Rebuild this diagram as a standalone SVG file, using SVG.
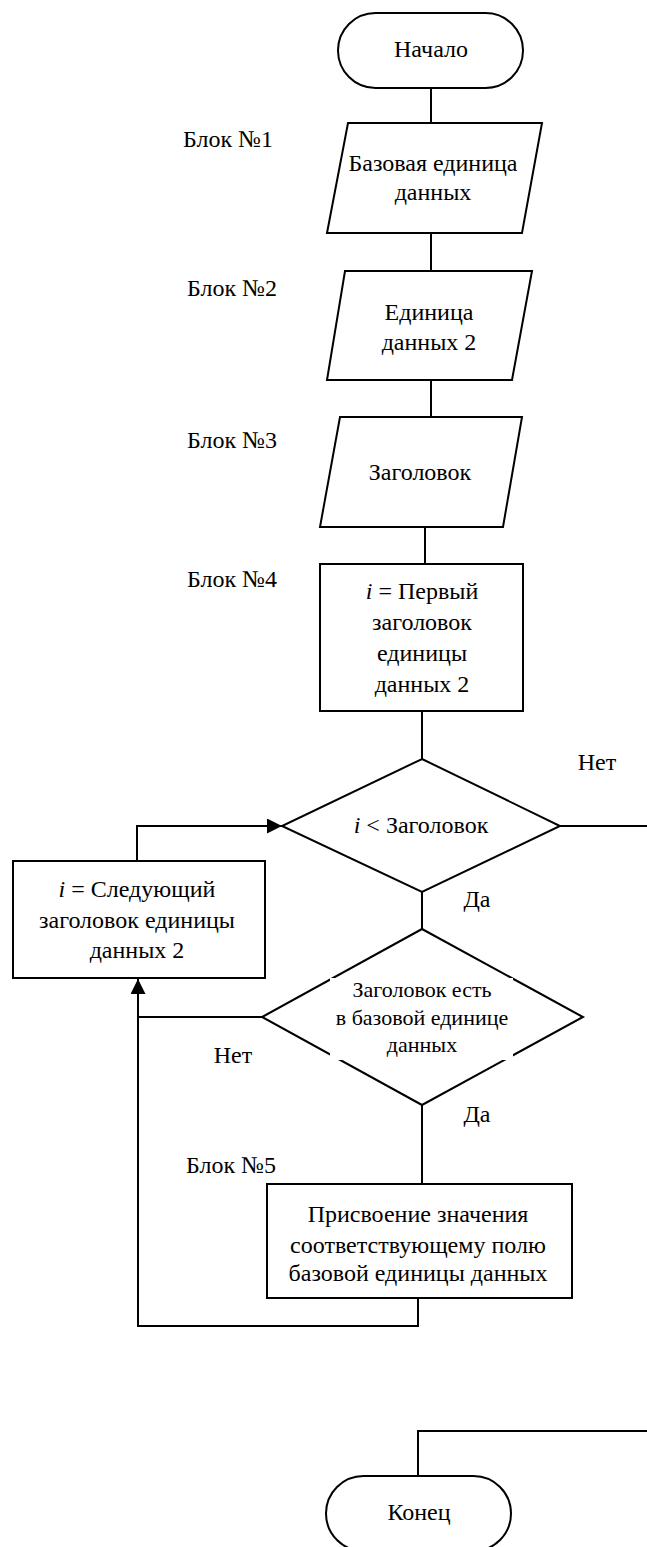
<svg xmlns="http://www.w3.org/2000/svg" width="647" height="1547" viewBox="0 0 647 1547" font-family="'Liberation Serif', 'DejaVu Serif', serif">
<style>
.s{fill:#fff;stroke:#000;stroke-width:2}
.c{fill:none;stroke:#000;stroke-width:2}
text{font-family:'Liberation Serif','DejaVu Serif',serif;font-size:24px;fill:#000}
.m{text-anchor:middle}
.sm{font-size:22px}
.i{font-style:italic}
</style>
<defs>
<marker id="ah" markerUnits="userSpaceOnUse" markerWidth="16" markerHeight="16" refX="15" refY="7.5" orient="auto">
<path d="M0,0 L15,7.5 L0,15 Z" fill="#000"/>
</marker>
</defs>
<rect width="647" height="1547" fill="#fff"/>
<g id="connectors">
<path class="c" d="M431,88 V123"/>
<path class="c" d="M431,233 V271"/>
<path class="c" d="M431,380 V417"/>
<path class="c" d="M425,527 V564"/>
<path class="c" d="M422,711 V759"/>
<path class="c" d="M560,826 H647"/>
<path class="c" d="M422,892 V929"/>
<path class="c" d="M137,861 V826 H282" marker-end="url(#ah)"/>
<path class="c" d="M262,1017 H138 V979" marker-end="url(#ah)"/>
<path class="c" d="M422,1105 V1184"/>
<path class="c" d="M418,1298 V1326 H138 V1017"/>
<path class="c" d="M647,1431 H418 V1476"/>
</g>
<g id="start">
<rect class="s" x="338" y="13" width="185" height="75" rx="37.5"/>
<text class="m" x="431" y="57">Начало</text>
</g>
<g id="block1">
<polygon class="s" points="348,123 542,123 522,233 327,233"/>
<text x="183" y="147">Блок №1</text>
<text class="m" x="433" y="171">Базовая единица</text>
<text class="m" x="433" y="200">данных</text>
</g>
<g id="block2">
<polygon class="s" points="345,271 532,271 512,380 327,380"/>
<text x="187" y="296">Блок №2</text>
<text class="m" x="429" y="320">Единица</text>
<text class="m" x="429" y="350">данных 2</text>
</g>
<g id="block3">
<polygon class="s" points="340,417 522,417 503,527 320,527"/>
<text x="187" y="448">Блок №3</text>
<text class="m" x="420" y="480">Заголовок</text>
</g>
<g id="block4">
<rect class="s" x="320" y="564" width="203" height="147"/>
<text x="187" y="587">Блок №4</text>
<text class="m" x="422" y="599"><tspan class="i">i</tspan> = Первый</text>
<text class="m" x="422" y="630">заголовок</text>
<text class="m" x="422" y="661">единицы</text>
<text class="m" x="422" y="692">данных 2</text>
</g>
<g id="decision1">
<polygon class="s" points="422,759 560,826 422,892 282,826"/>
<text class="m" x="421" y="833"><tspan class="i">i</tspan> &lt; Заголовок</text>
<text class="m" x="597" y="770">Нет</text>
<text class="m" x="477" y="907">Да</text>
</g>
<g id="next">
<rect class="s" x="13" y="861" width="252" height="117"/>
<text class="m" x="137" y="897"><tspan class="i">i</tspan> = Следующий</text>
<text class="m" x="137" y="928">заголовок единицы</text>
<text class="m" x="137" y="958">данных 2</text>
</g>
<g id="decision2">
<polygon class="s" points="422,929 583,1017 422,1105 262,1017"/>
<rect x="330" y="978" width="183" height="82" fill="#fff"/>
<text class="m sm" x="422" y="997">Заголовок есть</text>
<text class="m sm" x="422" y="1025">в базовой единице</text>
<text class="m sm" x="422" y="1052">данных</text>
<text class="m" x="233" y="1063">Нет</text>
<text class="m" x="477" y="1122">Да</text>
</g>
<g id="block5">
<rect class="s" x="267" y="1184" width="305" height="114"/>
<text x="186" y="1173">Блок №5</text>
<text class="m" x="418" y="1222">Присвоение значения</text>
<text class="m" x="418" y="1253">соответствующему полю</text>
<text class="m" x="418" y="1281">базовой единицы данных</text>
</g>
<g id="end">
<rect class="s" x="326" y="1476" width="185" height="75" rx="37.5"/>
<text class="m" x="419" y="1520">Конец</text>
</g>
</svg>
